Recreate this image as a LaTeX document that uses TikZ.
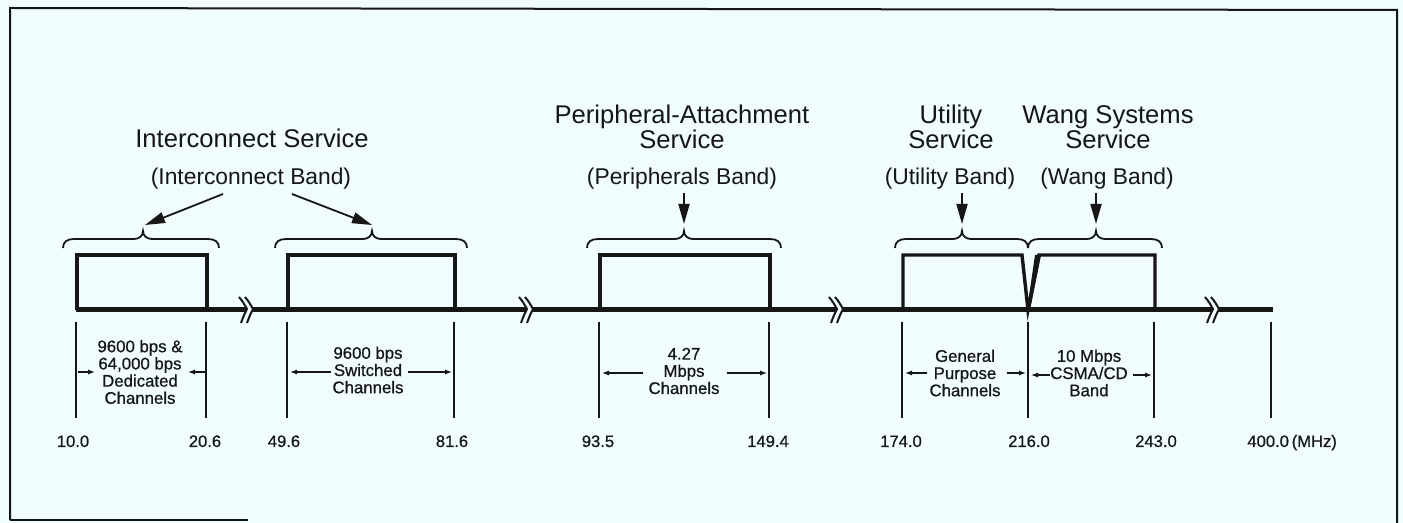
\documentclass[tikz,border=0pt]{standalone}
\usepackage{fontspec}
\setmainfont{Liberation Sans}
\newfontfamily\labelfont[FakeBold=0.7]{Liberation Sans}
\usetikzlibrary{arrows.meta}
\definecolor{paper}{RGB}{240,252,253}
\definecolor{ink}{RGB}{22,22,22}
\tikzset{
 axisline/.style={line width=2.5pt, draw=ink},
 boxline/.style={line width=1.7pt, draw=ink, line join=miter},
 tickline/.style={line width=1.3pt, draw=ink},
 braceline/.style={line width=0.9pt, draw=ink},
 bigarrow/.style={line width=0.9pt, draw=ink, fill=ink, -{Triangle[length=10pt,width=5.5pt]}},
 smallarrow/.style={line width=0.8pt, draw=ink, fill=ink, -{Latex[length=3.5pt,width=2.6pt]}},
 titletext/.style={font=\fontsize{12.8}{12.5}\selectfont, align=center, inner sep=0pt, text=ink},
 bandlbl/.style={font=\fontsize{11.4}{12}\selectfont, inner sep=0pt, anchor=base, text=ink},
 chanlbl/.style={font=\labelfont\fontsize{8.4}{8.6}\selectfont, align=center, inner sep=0pt, text=ink},
 freqlbl/.style={font=\labelfont\fontsize{8.3}{9}\selectfont, inner sep=0pt, anchor=base, text=ink},
 brkline/.style={line width=1pt, draw=ink},
 frameline/.style={line width=1pt, draw=ink},
}
\newcommand\bandbrace[3]{%
 \draw[braceline] (#1,248) .. controls (#1,242) and ({#1+4},239) .. ({#1+11},239) -- ({#2-9},239) .. controls ({#2-4},239) and (#2,236) .. (#2,231) .. controls (#2,236) and ({#2+4},239) .. ({#2+9},239) -- ({#3-11},239) .. controls ({#3-4},239) and (#3,242) .. (#3,248);}
\newcommand\axisbreak[1]{%
 \fill[paper] ({#1-8},297) -- (#1,309) -- ({#1-6},323) -- (#1,323) -- ({#1+6},309) -- ({#1-2},297) -- cycle;
 \draw[brkline] ({#1-8},297) .. controls ({#1-4},302) .. (#1,309) .. controls ({#1-3},315) .. ({#1-6},323);
 \draw[brkline] ({#1-2},297) .. controls ({#1+2},302) .. ({#1+6},309) .. controls ({#1+3},315) .. (#1,323);}
\begin{document}
\begin{tikzpicture}[x=0.5pt,y=-0.5pt]
\useasboundingbox (0,0) rectangle (1403,523);
\fill[paper] (0,0) rectangle (1403,523);
% frame
\draw[frameline] (10,520) -- (10,8) -- (1397,10) -- (1397,523);
\draw[line width=0.8pt, draw=ink] (10,520) -- (248,520);
% axis
\draw[axisline] (76,310) -- (1273,310);
% boxes
\draw[boxline] (77,310) -- (77,255) -- (207,255) -- (207,310);
\draw[boxline] (288,310) -- (288,255) -- (455,255) -- (455,310);
\draw[boxline] (600,310) -- (600,255) -- (770,255) -- (770,310);
\draw[boxline] (903,310) -- (903,255) -- (1022,255) -- (1028,310) -- (1039,255) -- (1155,255) -- (1155,310);
\fill[ink] (1027,310) -- (1035,255) -- (1041,255) -- (1030,310) -- cycle;
% breaks
\axisbreak{247}
\axisbreak{527}
\axisbreak{837}
\axisbreak{1213}
% braces
\bandbrace{63}{143}{219}
\bandbrace{275}{372}{467}
\bandbrace{587}{684}{781}
\bandbrace{895}{962}{1028}
\bandbrace{1028}{1096}{1162}
% ticks
\foreach \x [count=\i] in {76,206,287,454,599,769,902,1028,1154,1271}{
 \coordinate (tt\i) at (\x,322);
 \coordinate (tb\i) at (\x,418);
 \draw[tickline] (tt\i) -- (tb\i);
}
% frequencies
\node[freqlbl] (f1) at (73,447) {10.0};
\node[freqlbl] (f2) at (205,447) {20.6};
\node[freqlbl] (f3) at (284,447) {49.6};
\node[freqlbl] (f4) at (452,447) {81.6};
\node[freqlbl] (f5) at (598,447) {93.5};
\node[freqlbl] (f6) at (768,447) {149.4};
\node[freqlbl] (f7) at (901,447) {174.0};
\node[freqlbl] (f8) at (1029,447) {216.0};
\node[freqlbl] (f9) at (1156,447) {243.0};
\node[freqlbl, anchor=base west] (f10) at (1247,447) {400.0\,(MHz)};
% titles
\node[titletext, anchor=base] (ictitle) at (252,148) {Interconnect Service};
\node[bandlbl] (icband) at (251,185) {(Interconnect Band)};
\node[titletext] (pattitle) at (682,127) {Peripheral-Attachment\\Service};
\node[bandlbl] (peband) at (682,185) {(Peripherals Band)};
\node[titletext] (uttitle) at (951,127) {Utility\\Service};
\node[bandlbl] (utband) at (950,185) {(Utility Band)};
\node[titletext] (wgtitle) at (1108,127) {Wang Systems\\Service};
\node[bandlbl] (wgband) at (1107,185) {(Wang Band)};
% service arrows
\coordinate (ia1) at (223,194); \coordinate (ib1) at (145,225);
\coordinate (ia2) at (292,194); \coordinate (ib2) at (372,225);
\coordinate (pa) at (684,193); \coordinate (pb) at (684,224);
\coordinate (ua) at (962,193); \coordinate (ub) at (962,224);
\coordinate (wa) at (1096,193); \coordinate (wb) at (1096,224);
\draw[bigarrow] (ia1) -- (ib1);
\draw[bigarrow] (ia2) -- (ib2);
\draw[bigarrow] (pa) -- (pb);
\draw[bigarrow] (ua) -- (ub);
\draw[bigarrow] (wa) -- (wb);
% channel labels
\node[chanlbl] (c1) at (140,372) {9600 bps \&\\64,000 bps\\Dedicated\\Channels};
\node[chanlbl] (c2) at (368,370) {9600 bps\\Switched\\Channels};
\node[chanlbl] (c3) at (684,371) {4.27\\Mbps\\Channels};
\node[chanlbl] (c4) at (965,373) {General\\Purpose\\Channels};
\node[chanlbl] (c5) at (1089,373) {10 Mbps\\CSMA/CD\\Band};
% small arrows
\coordinate (s1a) at (78,372);  \coordinate (s1b) at (95,372);
\coordinate (s2a) at (205,372); \coordinate (s2b) at (188,372);
\coordinate (s3a) at (331,372); \coordinate (s3b) at (290,372);
\coordinate (s4a) at (408,372); \coordinate (s4b) at (452,372);
\coordinate (s5a) at (643,373); \coordinate (s5b) at (602,373);
\coordinate (s6a) at (727,373); \coordinate (s6b) at (767,373);
\coordinate (s7a) at (927,373); \coordinate (s7b) at (905,373);
\coordinate (s8a) at (1007,373); \coordinate (s8b) at (1026,373);
\coordinate (s9a) at (1050,375); \coordinate (s9b) at (1031,375);
\coordinate (s10a) at (1133,375); \coordinate (s10b) at (1152,375);
\foreach \i in {1,...,10}{\draw[smallarrow] (s\i a) -- (s\i b);}
\end{tikzpicture}
\end{document}
